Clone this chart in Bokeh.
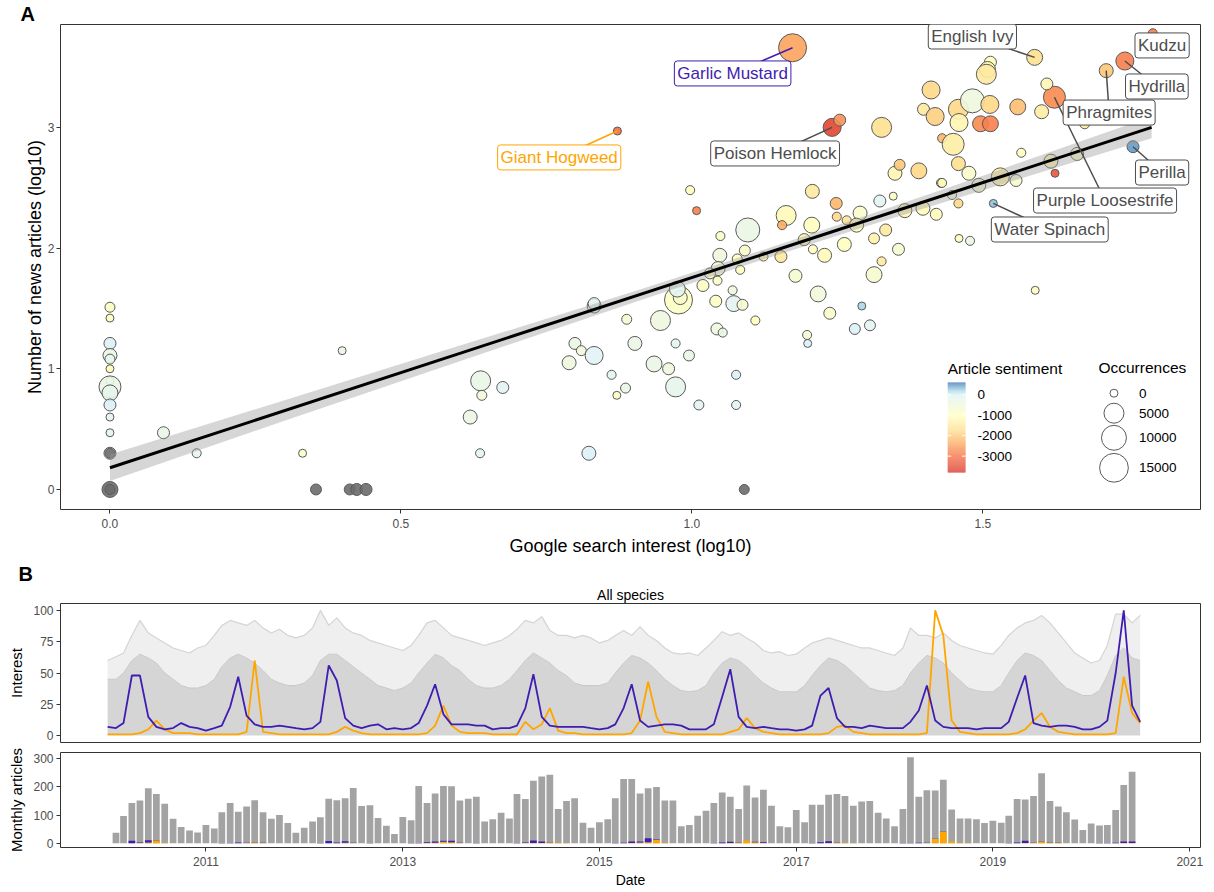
import numpy as np
import pandas as pd
from datetime import datetime
from bokeh.plotting import figure
from bokeh.models import (ColumnDataSource, LinearColorMapper, FixedTicker, Label, Title,
                          Range1d, DatetimeTickFormatter, NumeralTickFormatter)
from bokeh.layouts import column
from bokeh.embed import file_html
from bokeh.resources import INLINE
from bokeh.core.properties import value

FONT = "Liberation Sans"
NA = float("nan")

# ---------------- Panel A data ----------------
interest_log = [0, 0, 0, 0, 0, 0, 0, 0, 0, 0, 0, 0, 0, 0, 0, 0,
                0.092, 0.149, 0.331, 0.399, 0.354, 0.412, 0.424, 0.440, 0.637, 0.639, 0.619, 0.636, 0.675, 1.09,
                0.823, 0.789, 0.799, 0.810, 0.832, 0.862, 0.871, 0.886, 0.902, 0.935, 0.960, 0.972, 0.972, 0.995,
                1.012, 1.076, 1.076, 0.888, 0.946, 0.977, 0.980, 0.975, 0.832, 0.832, 1.019, 1.044, 1.041, 1.070,
                1.072, 1.087, 1.109, 1.043, 1.053, 1.048, 1.049, 1.045, 1.031, 1.078, 1.083, 1.091, 1.096, 0.997,
                1.008, 1.123, 1.153, 1.162, 1.155, 1.178, 1.217, 1.237, 1.198, 1.199, 1.207, 1.206, 1.193, 1.208,
                1.228, 1.248, 1.249, 1.262, 1.266, 1.289, 1.283, 1.313, 1.333, 1.326, 1.313, 1.355, 1.323, 1.346,
                1.366, 1.397, 1.420, 1.428, 1.292, 1.280, 1.306, 1.349, 1.357, 1.390,
                1.589, 1.792, 1.744, 1.712, 1.623, 1.610, 1.601, 1.675, 1.758, 1.662, 1.617, 1.624, 1.566, 1.557,
                1.530, 1.518, 1.459, 1.478, 1.590, 1.560, 1.513, 1.508, 1.506, 1.411, 1.398, 1.418, 1.458, 1.482,
                1.512, 1.459, 1.496, 1.513, 1.430, 1.449, 1.458, 1.476, 1.493, 1.430, 1.326, 1.447, 1.458,
                1.173, 0.872, 1.241, 1.254]
articles_log = [1.51, 1.42, 1.21, 1.11, 1.08, 1.00, 0.90, 0.85, 0.80, 0.70, 0.60, 0.47, 0.30, 0.30, 0.0, 0.0,
                0.47, 0.30, 0.30, 1.15, 0.0, 0.0, 0.0, 0.0, 0.90, 0.78, 0.60, 0.30, 0.845, 0.0,
                0.30, 1.05, 1.21, 1.15, 1.11, 0.95, 0.78, 0.84, 1.21, 1.04, 1.00, 0.85, 1.21, 1.11,
                0.70, 0.70, 0.95, 1.41, 1.40, 1.57, 1.59, 1.66, 1.52, 1.54, 1.69, 1.73, 1.56, 1.65,
                1.54, 1.53, 1.40, 1.33, 1.30, 1.94, 2.10, 1.83, 1.79, 1.91, 1.82, 1.98, 2.15, 2.48,
                2.31, 1.93, 1.93, 2.27, 2.19, 1.77, 1.62, 1.46, 1.28, 1.21, 2.47, 2.19, 2.07, 1.99,
                1.94, 2.37, 2.26, 2.03, 2.23, 2.29, 2.19, 2.08, 2.15, 1.89, 1.78, 1.99, 2.39, 2.43,
                2.31, 2.33, 2.28, 2.54, 1.52, 1.33, 1.36, 2.62, 2.69, 2.64,
                3.58, 3.78, 3.55, 3.47, 3.25, 3.36, 3.13, 3.03, 2.84, 2.78, 2.72, 2.62, 2.79, 2.56,
                2.59, 2.37, 2.08, 2.06, 1.65, 3.17, 3.54, 3.48, 3.44, 3.31, 3.15, 3.09, 3.15, 3.22,
                3.19, 3.04, 3.03, 3.03, 2.91, 2.86, 2.70, 2.62, 2.52, 2.54, 3.00, 2.44, 2.37,
                3.66, 2.97, 3.00, 3.06]
occurrences = [140, 0, 560, 1250, 140, 0, 0, 6800, 2200, 560, 0, 0, 560, 140, 2200, 140,
               560, 40, 0, 0, 310, 310, 560, 560, 5000, 140, 1250, 40, 560, 140,
               1250, 1250, 560, 140, 3500, 40, 0, 140, 1250, 2200, 560, 5000, 40, 310,
               140, 40, 40, 140, 5000, 13900, 1250, 2200, 1250, 560, 560, 40, 560, 40,
               2200, 310, 40, 560, 40, 1250, 40, 1250, 310, 140, 40, 310, 8900, 40,
               0, 40, 560, 5000, 40, 870, 2200, 560, 40, 0, 1250, 2200, 560, 40,
               1250, 560, 40, 1250, 40, 1250, 1250, 310, 560, 40, 2200, 560, 560, 0,
               1250, 1250, 560, 40, 0, 310, 310, 1250, 310, 2200,
               2200, 40, 3500, 1250, 6800, 560, 1250, 140, 560, 870, 1250, 0, 40, 560,
               3500, 0, 0, 40, 0, 2200, 560, 2200, 5000, 3500, 560, 3500, 5000, 8900,
               3500, 3500, 2200, 2200, 40, 6800, 1250, 1250, 1250, 40, 5000, 40, 40,
               13900, 0, 3500, 560]
sentiment = [-900, -1000, 0, -300, -200, -1100, -300, -300, -200, 0, -200, -100, -300, NA, NA, NA,
             -300, -200, -900, -300, NA, NA, NA, NA, -300, -500, -300, -100, -100, NA,
             0, -400, -300, -500, -50, -100, -900, -300, -300, -300, -400, -200, -100, -300,
             -100, -50, 0, -700, -400, -900, -800, -100, -100, -200, -900, -900, -900, -400,
             -100, -700, -1000, -400, -300, -400, -900, -600, -900, -1000, -1000, -800, -300, -1000,
             -2800, -1200, -1500, -1100, -2300, -700, -500, -800, -600, 0, -1500, -1000, -1200, -1000,
             -1100, -2200, -1800, -1000, -1600, -800, -1000, -1300, -1500, -1500, -700, -700, -100, -900,
             -1200, -1100, -1100, -1200, 200, 0, -100, -1200, -2000, -1800,
             -1700, -2800, -2800, -2000, -2700, -1200, -1400, -1500, 450, -900, -1200, -3300, -1000, -700,
             -1300, 300, -1000, -300, -1000, -2100, -1000, -1200, -1500, -1800, -1500, -1900, -1800, -400,
             -1800, -1200, -2700, -2800, -2200, -1400, -1700, -800, -700, -1100, -1700, -600, -1800,
             -2400, -3000, -3500, -2600]

# fitted regression
fit_x = [0.0, 1.79]
fit_y = [0.18, 3.0]
band_x = [0.0, 0.3, 0.6, 0.9, 1.1, 1.3, 1.5, 1.79]
band_lo = [0.07, 0.57, 1.06, 1.55, 1.87, 2.18, 2.48, 2.91]
band_hi = [0.29, 0.74, 1.19, 1.64, 1.95, 2.27, 2.60, 3.09]

# labelled species
lab_names = ["Garlic Mustard", "Giant Hogweed", "Poison Hemlock", "English Ivy", "Kudzu",
             "Hydrilla", "Phragmites", "Purple Loosestrife", "Perilla", "Water Spinach"]
lab_px = [1.173, 0.872, 1.241, 1.589, 1.792, 1.744, 1.712, 1.623, 1.758, 1.518]
lab_py = [3.66, 2.97, 3.00, 3.58, 3.78, 3.55, 3.47, 3.25, 2.84, 2.37]
lab_bx = [1.070, 0.772, 1.143, 1.482, 1.808, 1.799, 1.717, 1.710, 1.808, 1.615]
lab_by = [3.447, 2.751, 2.784, 3.753, 3.679, 3.339, 3.123, 2.394, 2.626, 2.154]
lab_col = ["#3F1DB0", "#FFA500", "#4D4D4D", "#4D4D4D", "#4D4D4D",
           "#4D4D4D", "#4D4D4D", "#4D4D4D", "#4D4D4D", "#4D4D4D"]

size_legend_vals = [0, 5000, 10000, 15000]
sent_ticks = [0, -1000, -2000, -3000]
sent_low, sent_high = -3800, 600

# ---------------- Panel B data ----------------
gm_interest = [7, 6, 10, 48, 48, 15, 7, 5, 6, 10, 7, 6,
               4, 6, 8, 23, 47, 16, 9, 7, 7, 8, 7, 6,
               5, 6, 11, 56, 44, 14, 8, 6, 8, 9, 5, 6,
               5, 6, 10, 24, 41, 17, 9, 9, 9, 8, 8, 5,
               6, 6, 8, 22, 49, 15, 8, 7, 7, 7, 7, 6,
               5, 6, 9, 22, 41, 12, 7, 8, 9, 9, 8, 5,
               5, 5, 9, 31, 53, 15, 7, 6, 7, 6, 5, 5,
               4, 5, 8, 32, 38, 14, 7, 7, 6, 8, 7, 6,
               6, 6, 11, 20, 40, 12, 7, 6, 6, 6, 5, 6,
               6, 6, 11, 30, 48, 10, 8, 7, 8, 8, 7, 5,
               5, 7, 12, 50, 100, 24, 11]
gh_interest = [1, 1, 1, 1, 2, 5, 12, 5, 2, 2, 2, 1,
               1, 1, 1, 1, 1, 3, 60, 3, 2, 1, 1, 1,
               1, 1, 1, 1, 3, 7, 4, 2, 1, 1, 1, 1,
               1, 1, 1, 2, 8, 24, 8, 3, 2, 2, 2, 1,
               1, 1, 1, 11, 5, 9, 22, 4, 2, 2, 1, 1,
               1, 1, 1, 1, 2, 12, 43, 15, 3, 2, 1, 1,
               1, 1, 1, 1, 3, 5, 14, 6, 3, 2, 1, 1,
               1, 1, 1, 1, 2, 7, 8, 3, 2, 1, 1, 1,
               1, 1, 1, 1, 2, 100, 80, 12, 3, 2, 1, 1,
               1, 1, 1, 2, 5, 12, 18, 7, 3, 2, 1, 1,
               1, 1, 1, 2, 47, 18, 10]
all_max_interest = [60, 63, 66, 80, 92, 82, 78, 74, 70, 68, 66, 70,
                    72, 80, 88, 92, 90, 88, 92, 86, 82, 85, 80, 78,
                    80, 86, 100, 88, 94, 86, 82, 80, 76, 74, 72, 70,
                    68, 72, 80, 90, 92, 86, 80, 78, 76, 74, 72, 74,
                    76, 80, 85, 92, 90, 95, 84, 80, 80, 78, 80, 78,
                    74, 76, 80, 84, 80, 87, 80, 76, 70, 66, 65, 66,
                    64, 70, 76, 83, 80, 82, 78, 74, 68, 66, 67, 64,
                    65, 70, 74, 76, 78, 76, 74, 72, 70, 70, 68, 66,
                    64, 70, 86, 80, 80, 78, 82, 76, 72, 70, 68, 66,
                    65, 72, 80, 86, 90, 92, 96, 90, 82, 74, 66, 62,
                    58, 60, 72, 97, 97, 90, 96]
all_dense_interest = [45, 45, 50, 60, 65, 62, 58, 50, 45, 40, 38, 38,
                      40, 45, 55, 62, 65, 62, 58, 52, 45, 42, 40, 40,
                      42, 48, 60, 65, 65, 60, 55, 50, 45, 40, 38, 36,
                      38, 42, 50, 58, 65, 62, 56, 52, 45, 40, 38, 38,
                      40, 45, 52, 60, 66, 62, 58, 52, 48, 42, 40, 40,
                      40, 42, 50, 58, 64, 62, 58, 52, 45, 40, 36, 35,
                      36, 40, 50, 58, 62, 60, 55, 48, 42, 38, 35, 35,
                      35, 40, 48, 56, 62, 60, 56, 50, 44, 38, 36, 35,
                      36, 40, 50, 58, 64, 62, 58, 50, 44, 38, 36, 35,
                      35, 40, 50, 60, 66, 64, 60, 52, 44, 38, 35, 32,
                      32, 36, 48, 64, 70, 62, 60]

total_articles = [37, 97, 143, 152, 195, 175, 140, 87, 58, 45, 38,
                  65, 52, 110, 143, 112, 130, 153, 110, 87, 100, 72, 37,
                  55, 77, 92, 158, 153, 160, 196, 132, 135, 90, 62, 33,
                  93, 82, 203, 143, 177, 203, 202, 152, 158, 165, 77, 85,
                  108, 88, 175, 157, 222, 237, 243, 122, 150, 160, 73, 55,
                  75, 85, 160, 228, 228, 177, 195, 200, 152, 152, 60, 65,
                  98, 115, 143, 180, 165, 122, 205, 162, 190, 133, 60, 57,
                  118, 75, 137, 137, 172, 175, 168, 133, 148, 150, 108, 88,
                  60, 122, 305, 165, 188, 187, 225, 120, 88, 88, 85, 72,
                  80, 73, 98, 157, 155, 168, 248, 150, 130, 110, 84, 47,
                  70, 63, 65, 118, 207, 254]
gm_articles = [0, 0, 9, 2, 8, 1, 0, 0, 0, 0, 0,
               0, 0, 1, 1, 3, 1, 1, 1, 0, 0, 0, 0,
               0, 0, 1, 8, 3, 5, 1, 0, 1, 0, 0, 0,
               0, 1, 1, 3, 4, 4, 5, 1, 0, 1, 0, 0,
               0, 0, 1, 2, 9, 5, 1, 0, 0, 0, 0, 0,
               0, 0, 1, 2, 5, 3, 14, 1, 0, 0, 0, 0,
               0, 0, 1, 3, 4, 1, 0, 1, 3, 0, 0, 0,
               0, 0, 1, 4, 6, 1, 0, 0, 0, 0, 0, 0,
               0, 1, 1, 2, 1, 1, 1, 0, 0, 0, 0, 0,
               0, 0, 1, 3, 8, 1, 1, 1, 1, 0, 0, 0,
               0, 1, 1, 2, 5, 5]
gh_articles = [0, 0, 0, 1, 3, 10, 2, 0, 0, 0, 0,
               0, 0, 0, 0, 0, 1, 3, 1, 0, 0, 0, 0,
               0, 0, 0, 0, 0, 2, 1, 0, 0, 0, 0, 0,
               0, 0, 0, 1, 2, 5, 4, 1, 0, 0, 0, 0,
               0, 0, 0, 1, 1, 1, 3, 2, 1, 0, 0, 0,
               0, 0, 0, 0, 1, 3, 4, 12, 2, 0, 0, 0,
               0, 0, 0, 0, 1, 2, 10, 4, 1, 0, 0, 0,
               0, 0, 0, 0, 1, 2, 2, 1, 0, 0, 0, 0,
               0, 0, 0, 0, 1, 15, 40, 6, 2, 1, 0, 0,
               0, 0, 0, 0, 1, 2, 6, 2, 3, 0, 0, 0,
               0, 0, 0, 0, 1, 1]
year_ticks = [2011, 2013, 2015, 2017, 2019, 2021]

# ---------------- styling helpers ----------------
def hex2rgb(h):
    return tuple(int(h[i:i + 2], 16) for i in (1, 3, 5))

anchors = [(-3800, "#D73027"), (-3000, "#F46D43"), (-2300, "#FDAE61"), (-1700, "#FEE090"),
           (-1000, "#FFFFBF"), (-500, "#F1F8D9"), (0, "#E0F3F8"), (200, "#ABD9E9"),
           (400, "#74ADD1"), (600, "#4575B4")]
palette = []
for i in range(256):
    v = sent_low + (sent_high - sent_low) * i / 255
    for (a, ca), (b, cb) in zip(anchors[:-1], anchors[1:]):
        if a <= v <= b:
            t = (v - a) / (b - a)
            rgb = [round(x + (y - x) * t) for x, y in zip(hex2rgb(ca), hex2rgb(cb))]
            palette.append("#%02x%02x%02x" % tuple(rgb))
            break
mapper = LinearColorMapper(palette=palette, low=sent_low, high=sent_high, nan_color="#6B6B6B")


def occ_to_diam(o):
    return 8 + 24 * np.sqrt(np.asarray(o, dtype=float) / 20000.0)


def style_axes(p, tick_size="12px", label_size="18px"):
    for ax in p.axis:
        ax.axis_line_color = None
        ax.major_tick_line_color = "#333333"
        ax.major_tick_in = 0
        ax.major_tick_out = 4
        ax.minor_tick_line_color = None
        ax.major_label_text_font = FONT
        ax.major_label_text_font_size = tick_size
        ax.major_label_text_color = "#4D4D4D"
        ax.axis_label_text_font = FONT
        ax.axis_label_text_font_size = label_size
        ax.axis_label_text_font_style = "normal"
        ax.axis_label_text_color = "#000000"
    p.grid.visible = False
    p.outline_line_color = "#333333"
    p.outline_line_width = 1


def tag_title(letter, offset):
    return Title(text=letter, align="left", offset=offset, standoff=0, text_font=FONT,
                 text_font_size="20px", text_font_style="bold", text_color="black")


# ---------------- Panel A ----------------
FRAME_TOP_A = 24
FW_A, FH_A = 1150, 509 - FRAME_TOP_A
pA = figure(width=1210, height=560, x_range=Range1d(-0.085, 1.874),
            y_range=Range1d(-0.166, (489 - FRAME_TOP_A) / 120.7),
            min_border_left=50, min_border_right=10, min_border_top=FRAME_TOP_A, min_border_bottom=51,
            output_backend="svg", toolbar_location=None,
            x_axis_label="Google search interest (log10)", y_axis_label="Number of news articles (log10)")
pA.add_layout(tag_title("A", -40), "above")
pA.extra_x_ranges = {"px": Range1d(0, FW_A)}
pA.extra_y_ranges = {"px": Range1d(0, FH_A)}
style_axes(pA)
pA.xaxis.ticker = FixedTicker(ticks=[0, 0.5, 1.0, 1.5])
pA.xaxis.formatter = NumeralTickFormatter(format="0.0")
pA.yaxis.ticker = FixedTicker(ticks=[0, 1, 2, 3])
pA.xaxis.major_label_standoff = 5
pA.xaxis.axis_label_standoff = 5
pA.yaxis.major_label_standoff = 2
pA.yaxis.axis_label_standoff = 0

srcA = ColumnDataSource(dict(x=interest_log, y=articles_log, occ=occurrences,
                             sent=sentiment, d=occ_to_diam(occurrences)))
pA.scatter("x", "y", size="d", source=srcA, fill_color={"field": "sent", "transform": mapper},
           fill_alpha=0.9, line_color="#5A5A5A", line_width=1)

pA.varea(x=band_x, y1=band_lo, y2=band_hi, fill_color="#999999", fill_alpha=0.4)
pA.line(x=fit_x, y=fit_y, line_color="black", line_width=3)

pA.segment(x0=lab_px, y0=lab_py, x1=lab_bx, y1=lab_by, line_color=lab_col, line_width=1.5)
for name, bx, by, col in zip(lab_names, lab_bx, lab_by, lab_col):
    pA.add_layout(Label(x=bx, y=by, text=name, text_align="center", text_baseline="middle",
                        text_font=FONT, text_font_size="17px", text_color=col,
                        background_fill_color="white", background_fill_alpha=1.0,
                        border_line_color=col, border_line_width=1, padding=3, border_radius=3))

# colour legend, drawn in frame-pixel space through the colour mapper
bar_left, bar_w, bar_bottom, bar_h = 895, 18, 37, 90
def sent_to_py(v):
    return bar_bottom + (np.asarray(v, dtype=float) - sent_low) / (sent_high - sent_low) * bar_h
grad_vals = np.linspace(sent_low, sent_high, bar_h + 1)
grad_src = ColumnDataSource(dict(v=(grad_vals[:-1] + grad_vals[1:]) / 2,
                                 bottom=sent_to_py(grad_vals[:-1]), top=sent_to_py(grad_vals[1:])))
pA.quad(left=bar_left, right=bar_left + bar_w, bottom="bottom", top="top", source=grad_src,
        fill_color={"field": "v", "transform": mapper}, line_color=None,
        x_range_name="px", y_range_name="px")
tick_py = sent_to_py(sent_ticks)
pA.segment(x0=[bar_left] * 4, x1=[bar_left + 3.6] * 4, y0=tick_py, y1=tick_py, line_color="white",
           line_width=1, x_range_name="px", y_range_name="px")
pA.segment(x0=[bar_left + bar_w - 3.6] * 4, x1=[bar_left + bar_w] * 4, y0=tick_py, y1=tick_py,
           line_color="white", line_width=1, x_range_name="px", y_range_name="px")
pA.text(x=[bar_left + bar_w + 12] * 4, y=tick_py, text=[str(v) for v in sent_ticks],
        x_range_name="px", y_range_name="px", text_font=value(FONT), text_font_size="13.5px",
        text_align="left", text_baseline="middle", text_color="black")
pA.text(x=[bar_left], y=[141], text=["Article sentiment"], x_range_name="px", y_range_name="px",
        text_font=value(FONT), text_font_size="15.5px", text_align="left", text_baseline="middle",
        text_color="black")

# size legend (frame-pixel space)
leg_y = [116.3, 96.3, 71.7, 41.7]
pA.text(x=[1047], y=[142], text=["Occurrences"], x_range_name="px", y_range_name="px",
        text_font=value(FONT), text_font_size="15.5px", text_align="left", text_baseline="middle",
        text_color="black")
pA.scatter(x=[1062.7] * 4, y=leg_y, size=occ_to_diam(size_legend_vals), x_range_name="px",
           y_range_name="px", fill_color="white", fill_alpha=0, line_color="#5A5A5A", line_width=1)
pA.text(x=[1088] * 4, y=leg_y, text=[str(v) for v in size_legend_vals], x_range_name="px",
        y_range_name="px", text_font=value(FONT), text_font_size="13.5px", text_align="left",
        text_baseline="middle", text_color="black")

# ---------------- Panel B ----------------
months = pd.date_range("2010-01-01", periods=len(gm_interest), freq="MS")
bar_months = pd.date_range("2010-02-01", periods=len(total_articles), freq="MS")
xr = Range1d(datetime(2009, 7, 10), datetime(2021, 2, 10))

pB1 = figure(width=1210, height=184, x_axis_type="datetime", x_range=xr, y_range=Range1d(-5.5, 105.5),
             min_border_left=60, min_border_right=10, min_border_top=36, min_border_bottom=2,
             output_backend="svg", toolbar_location=None, y_axis_label="Interest")
pB1.add_layout(Title(text="All species", align="center", standoff=1, text_font=FONT,
                     text_font_size="14px", text_font_style="normal", text_color="black"), "above")
pB1.add_layout(tag_title("B", -42), "above")
style_axes(pB1, tick_size="12px", label_size="15px")
pB1.xaxis.visible = False
pB1.yaxis.ticker = FixedTicker(ticks=[0, 25, 50, 75, 100])
pB1.yaxis.major_label_standoff = 3
pB1.yaxis.axis_label_standoff = 5

srcI = ColumnDataSource(dict(date=months, gm=gm_interest, gh=gh_interest,
                             top=all_max_interest, dense=all_dense_interest))
pB1.varea(x="date", y1=0, y2="dense", source=srcI, fill_color="#D5D5D5")
pB1.varea(x="date", y1="dense", y2="top", source=srcI, fill_color="#EFEFEF")
pB1.line(x="date", y="top", source=srcI, line_color="#D4D4D4", line_width=1.2)
pB1.line(x="date", y="dense", source=srcI, line_color="#C8C8C8", line_width=1)
pB1.line(x="date", y="gh", source=srcI, line_color="#FFA500", line_width=1.8)
pB1.line(x="date", y="gm", source=srcI, line_color="#3F1DB0", line_width=1.8)

pB2 = figure(width=1210, height=146, x_axis_type="datetime", x_range=xr, y_range=Range1d(-15, 322),
             min_border_left=60, min_border_right=10, min_border_top=8, min_border_bottom=41,
             output_backend="svg", toolbar_location=None, x_axis_label="Date",
             y_axis_label="Monthly articles")
style_axes(pB2, tick_size="12px", label_size="15px")
pB2.xaxis.axis_label_text_font_size = "14px"
pB2.yaxis.ticker = FixedTicker(ticks=[0, 100, 200, 300])
pB2.yaxis.major_label_standoff = 3
pB2.yaxis.axis_label_standoff = 5
pB2.xaxis.ticker = FixedTicker(ticks=[pd.Timestamp(f"{y}-01-01").value / 1e6 for y in year_ticks])
fmt = "%Y"
pB2.xaxis.formatter = DatetimeTickFormatter(years=fmt, months=fmt, days=fmt, hours=fmt, hourmin=fmt,
                                            minutes=fmt, minsec=fmt, seconds=fmt, milliseconds=fmt,
                                            microseconds=fmt)
pB2.xaxis.major_label_standoff = 5
pB2.xaxis.axis_label_standoff = 3

srcBar = ColumnDataSource(dict(date=bar_months, total=total_articles, gm=gm_articles, gh=gh_articles))
bar_width = 25 * 24 * 3600 * 1000
pB2.vbar(x="date", top="total", width=bar_width, source=srcBar, fill_color="#A3A3A3", line_color=None)
pB2.vbar_stack(["gh", "gm"], x="date", width=bar_width, source=srcBar,
               fill_color=["#FFA500", "#3F1DB0"], line_color=None)

layout = column(pA, pB1, pB2, spacing=0)
open("out.html", "w").write(file_html(layout, INLINE))
